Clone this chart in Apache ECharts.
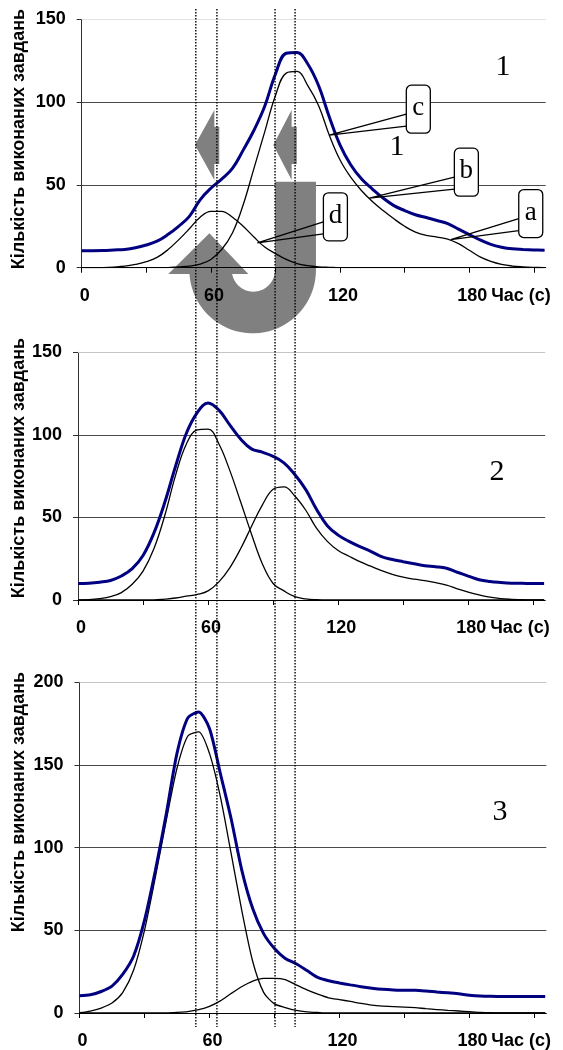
<!DOCTYPE html>
<html><head><meta charset="utf-8">
<script src="https://cdn.jsdelivr.net/npm/echarts@6/dist/echarts.min.js"></script>
<style>html,body{margin:0;padding:0;background:#fff}#c{width:563px;height:1050px}</style>
</head><body><div id="c"></div><script>
// ---- data ----
const times = [0,5,10,15,20,25,30,35,40,45,50,55,60,65,70,75,80,85,90,95,100,105,110,115,120,125,130,135,140,145,150,155,160,165,170,175,180,185,190,195,200,205,210,215];
const xTickValues = [0,30,60,90,120,150,180,210];
const xLabelValues = [0,60,120,180];
const yMaxes = [150,150,200];
const yInterval = 50;

// panel 1
const A1 = [0,0,0.1,0.4,0.9,2,3.6,6.2,10.8,16.8,23.5,30.5,34,34,30.5,25,18.5,12.5,8.5,5,2.5,1.2,0.5,0.2,0,0,0,0,0,0,0,0,0,0,0,0,0,0,0,0,0,0,0,0];
const B1 = [0,0,0,0,0,0,0,0,0,0.5,1,2.2,5,11,21,38,60,82,104,117.5,118.5,110,98,80,65,54.5,46.5,40,34.5,29.5,25,21.5,19.5,18.5,17.3,14.5,10.5,6.5,3.8,2,1,0.5,0.2,0];
const T1 = [10.3,10.3,10.4,10.7,11,12,13.7,16,20,25,31,41,48,53.5,60,71,83,97.5,117,129.5,130,123,110,91,74,62,53.5,47.5,42,37.5,34.5,32,30.3,28.5,26.6,23.3,20,16.8,14.1,12.4,11.4,11,10.7,10.5];
// panel 2
const A2 = [0,0.2,0.8,2,4.5,9.5,17.5,31,51,75.5,94.5,103,103.5,94.5,78.5,59.5,40,22,10,5.5,2,0.7,0.2,0,0,0,0,0,0,0,0,0,0,0,0,0,0,0,0,0,0,0,0,0];
const B2 = [0,0,0,0,0,0,0,0,0.5,1.2,2.3,3.4,5.5,11,19.5,31,44.5,57.5,67,68.5,63,54.5,43.5,35.5,30,26.5,23.2,20.5,17.8,15.5,13.8,12.6,11.7,10.5,9,6.8,4.8,3.1,1.7,0.8,0.4,0.2,0,0];
const T2 = [10,10.2,10.8,11.8,14.5,19,27,40.5,59,81,101,113.5,119.3,115,106,97.5,91.5,89.5,87,83,76,67,55,45,39.3,35.5,32.3,29.5,26.3,24.5,23.2,22,20.8,20.2,19.2,16.8,14.5,12.3,11.2,10.6,10.2,10.1,10,10];
// panel 3
const A3 = [0.2,1.2,3,6,12.5,26,50,82,116,148,167.5,170,157,131,96.5,61.5,31,12.5,5.5,3.3,1.6,0.7,0.3,0,0,0,0,0,0,0,0,0,0,0,0,0,0,0,0,0,0,0,0,0];
const B3 = [0,0,0,0,0,0,0,0,0,0.3,0.8,2,4,7.3,11.8,16,19.3,21,21,20.2,17,14,11.4,9.2,8.1,7,5.8,4.8,4.2,3.8,3.6,3.2,2.6,2.1,1.6,1.2,0.8,0.4,0.2,0,0,0,0,0];
const T3 = [10.5,11,13,16.3,23.5,34.5,56,86,120,157,178.5,182,172,145,117.5,86,63,48,39,33,29.8,25.7,21.5,19.5,18.2,17,15.9,15,14.3,13.9,13.7,13.7,13.3,12.7,12.2,11.6,10.8,10.3,10.1,10,10,10,10,10];

const refTimes = [53, 62.8, 89.8, 99.1];
const callouts = [
  {label:'c', t:115, v:80, dx:77},
  {label:'b', t:133.6, v:42, dx:85},
  {label:'a', t:171.4, v:17, dx:68},
  {label:'d', t:81.6, v:15, dx:66}
];
const panelNumbers = ['1','2','3'];
const yTitle = 'Кількість виконаних завдань';
const xName = 'Час (с)';

// ---- layout / style ----
const grids = [
  {left:81.7, top:19.3, width:464, height:248.4},
  {left:78, top:352.3, width:467.2, height:247.7},
  {left:79.5, top:682.3, width:466.8, height:331}
];
const topLineColors = ['#e2e2e2','#c4c4c4','#c4c4c4'];
const sans = 'Liberation Sans, Arial, sans-serif';
const serif = 'Liberation Serif, Times New Roman, serif';
const labelFont = {fontFamily:sans, fontWeight:'bold', fontSize:18, color:'#000'};

const panels = [[A1,B1,T1],[A2,B2,T2],[A3,B3,T3]];
const pairs = arr => arr.map((v,i)=>[times[i], v]);

const option = {
  animation:false,
  backgroundColor:'#fff',
  grid: grids.map(g=>Object.assign({containLabel:false}, g)),
  xAxis: grids.map((g,i)=>({
    type:'value', gridIndex:i, min:0, max:215.5, interval:30, z:3,
    axisLine:{show:true, onZero:false, lineStyle:{color:'#000', width:1}},
    axisTick:{show:true, length:5, customValues:xTickValues, lineStyle:{color:'#000'}},
    axisLabel:Object.assign({customValues:xLabelValues, margin:19, padding:[0,0,0,6]}, labelFont),
    splitLine:{show:false},
    name:xName, nameLocation:'end', nameGap:3,
    nameTextStyle:Object.assign({align:'right', verticalAlign:'top', padding:[19,0,0,0]}, labelFont)
  })),
  yAxis: grids.map((g,i)=>({
    type:'value', gridIndex:i, min:0, max:yMaxes[i], interval:yInterval,
    axisLine:{show:true, lineStyle:{color:'#303030', width:1}},
    axisTick:{show:true, length:5, lineStyle:{color:'#303030'}},
    axisLabel:Object.assign({margin:16}, labelFont),
    splitLine:{show:true, showMaxLine:false, lineStyle:{color:'#4a4a4a', width:1}}
  })),
  series: []
};
panels.forEach((p,i)=>{
  const sm = i===2 ? 0.25 : 0.4;
  option.series.push({type:'line', xAxisIndex:i, yAxisIndex:i, data:pairs(p[0]), showSymbol:false, smooth:sm,
    lineStyle:{color:'#000', width:1.3}, z:2});
  option.series.push({type:'line', xAxisIndex:i, yAxisIndex:i, data:pairs(p[1]), showSymbol:false, smooth:sm,
    lineStyle:{color:'#000', width:1.3}, z:2});
  option.series.push({type:'line', xAxisIndex:i, yAxisIndex:i, data:pairs(p[2]), showSymbol:false, smooth:sm,
    lineStyle:{color:'#000080', width:3}, z:3,
    markLine:{silent:true, symbol:['none','none'], label:{show:false},
      lineStyle:{color:topLineColors[i], type:'solid', width:1}, data:[{yAxis:yMaxes[i]}]}});
});

const chart = echarts.init(document.getElementById('c'));
chart.setOption(option);

// ---- overlays ----
const P = (g,t,v)=>chart.convertToPixel({gridIndex:g}, [t,v]);
const gfx = [];

// gray arrows (defined in panel-1 data coordinates)
function leftArrow(tTip, tBase, tStem){
  const pts = [[tTip,74.1],[tBase,95.2],[tBase,85.1],[tStem,85.1],[tStem,62.6],[tBase,62.6],[tBase,53]].map(q=>P(0,q[0],q[1]));
  return {type:'polygon', z:1, shape:{points:pts}, style:{fill:'#808080'}};
}
gfx.push(leftArrow(52.6, 61.6, 63.9));
gfx.push(leftArrow(89, 97.5, 99.9));
(function(){
  const xor = P(0,108.8,0)[0], xir = P(0,89.8,0)[0], xol = P(0,50,0)[0], xil = P(0,69.7,0)[0];
  const yTop = P(0,0,51.9)[1], cy = P(0,0,-1.4)[1], yBase = P(0,0,-3.8)[1];
  const cxo = (xor+xol)/2, Ro = (xor-xol)/2, cxi = (xir+xil)/2, Ri = (xir-xil)/2;
  const pts = [[xir,yTop],[xor,yTop],[xor,cy]];
  const eo = Math.PI - Math.asin((yBase-cy)/Ro);
  for(let k=0;k<=40;k++){const a=eo*k/40; pts.push([cxo+Ro*Math.cos(a), cy+Ro*Math.sin(a)]);}
  pts.push(P(0,40.2,-3.8)); pts.push(P(0,59.3,20.8)); pts.push(P(0,77.4,-3.8));
  const ei = Math.PI - Math.asin((yBase-cy)/Ri);
  for(let k=0;k<=30;k++){const a=ei*(1-k/30); pts.push([cxi+Ri*Math.cos(a), cy+Ri*Math.sin(a)]);}
  gfx.push({type:'polygon', z:1, shape:{points:pts}, style:{fill:'#808080'}});
})();

// dotted reference lines across all panels
refTimes.forEach(t=>{
  const x = P(0,t,0)[0];
  gfx.push({type:'line', z:10, shape:{x1:x,y1:9,x2:x,y2:1027}, style:{stroke:'#000', lineWidth:1.4, lineDash:[1.5,1.5]}});
});

// callouts in panel 1
callouts.forEach(c=>{
  const a = P(0,c.t,c.v);
  const bl = a[0]+c.dx, bt = a[1]-50;
  gfx.push({type:'polyline', z:5, shape:{points:[[bl,bt+29],a,[bl,bt+41]]}, style:{stroke:'#000', lineWidth:1.3, fill:null}});
  gfx.push({type:'rect', z:5, shape:{x:bl,y:bt,width:24,height:48,r:5}, style:{fill:'#fff', stroke:'#000', lineWidth:1.3}});
  gfx.push({type:'text', z:6, x:bl+12, y:bt+23, style:{text:c.label, font:'27px '+serif, fill:'#000', align:'center', verticalAlign:'middle'}});
});

// panel numbers
const numPos = [[503,67],[497,472],[500,812]];
panelNumbers.forEach((n,i)=>{
  gfx.push({type:'text', z:6, x:numPos[i][0], y:numPos[i][1], style:{text:n, font:'30px '+serif, fill:'#000', align:'center', verticalAlign:'middle'}});
});
gfx.push({type:'text', z:6, x:397, y:147, style:{text:panelNumbers[0], font:'30px '+serif, fill:'#000', align:'center', verticalAlign:'middle'}});

// y-axis titles
[139,468,802].forEach(cyT=>{
  gfx.push({type:'text', z:6, x:19.5, y:cyT, rotation:Math.PI/2,
    style:{text:yTitle, font:'bold 18px '+sans, fill:'#000', align:'center', verticalAlign:'middle'}});
});

chart.setOption({graphic:{elements:gfx}});
</script></body></html>
